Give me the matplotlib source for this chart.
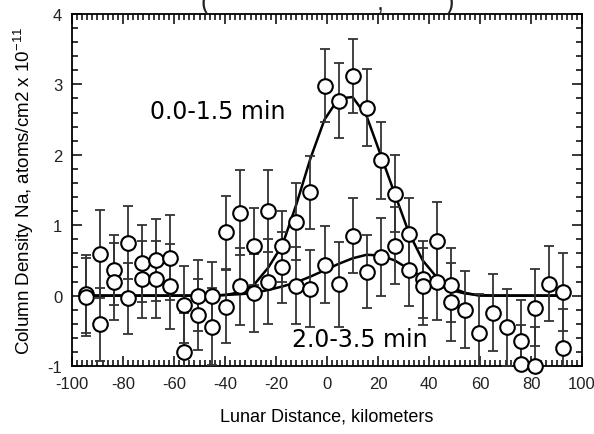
import numpy as np
import matplotlib
matplotlib.use("Agg")
import matplotlib.pyplot as plt
from matplotlib.ticker import MultipleLocator

# Lunar distance of each bin (km)
x_km = [-94.5, -89, -83.5, -78, -72.5, -67, -61.5, -56, -50.5, -45, -39.5,
        -34, -28.5, -23, -17.5, -12, -6.5, -1, 4.5, 10, 15.5, 21, 26.5, 32,
        37.5, 43, 48.5, 54, 59.5, 65, 70.5, 76, 81.5, 87, 92.5]

# 0.0-1.5 min column density (x 1e-11 atoms/cm2)
early = [0.02, 0.59, 0.36, 0.75, 0.46, 0.51, 0.54, -0.13, 0.0, 0.0, 0.9,
         1.18, 0.7, 1.2, 0.7, 1.05, 1.47, 2.98, 2.77, 3.12, 2.67, 1.92, 1.45,
         0.88, 0.23, 0.78, 0.15, -0.2, -0.53, -0.24, -0.45, -0.64, -0.17,
         0.17, 0.05]
early_err = [0.55, 0.62, 0.5, 0.52, 0.55, 0.58, 0.6, 0.55, 0.5, 0.48, 0.52,
             0.6, 0.55, 0.58, 0.5, 0.55, 0.52, 0.52, 0.53, 0.52, 0.55, 0.55,
             0.55, 0.5, 0.55, 0.55, 0.52, 0.55, 0.55, 0.55, 0.55, 0.58, 0.55,
             0.53, 0.55]
early_fit = [0, 0, 0, 0, 0, 0, 0, 0, 0, 0, 0.01, 0.05, 0.16, 0.4, 0.72, 1.3,
             1.95, 2.5, 2.8, 2.82, 2.55, 2.0, 1.45, 0.9, 0.5, 0.26, 0.12, 0.04,
             0.0, 0, 0, 0, 0, 0, 0]

# 2.0-3.5 min
late = [-0.02, -0.41, 0.2, -0.04, 0.23, 0.23, 0.13, -0.8, -0.27, -0.44,
        -0.16, 0.13, 0.04, 0.2, 0.4, 0.14, 0.1, 0.44, 0.16, 0.85, 0.34, 0.55,
        0.71, 0.37, 0.13, 0.2, -0.09, np.nan, np.nan, np.nan, np.nan, -0.97,
        -1.0, np.nan, -0.74]
late_err = [0.55, 0.52, 0.55, 0.5, 0.55, 0.55, 0.6, 0.55, 0.5, 0.55, 0.52,
            0.55, 0.55, 0.6, 0.5, 0.55, 0.55, 0.55, 0.6, 0.53, 0.52, 0.55,
            0.55, 0.52, 0.55, 0.55, 0.55, 0.55, 0.55, 0.55, 0.55, 0.55, 0.55,
            0.55, 0.55]
late_fit = [0, 0, 0, 0, 0, 0, 0, 0, 0, 0, 0.01, 0.02, 0.04, 0.08, 0.13, 0.19,
            0.27, 0.36, 0.45, 0.53, 0.58, 0.57, 0.5, 0.38, 0.26, 0.16, 0.08,
            0.03, 0.01, 0, 0, 0, 0, 0, 0]

plt.rcParams['font.family'] = ['Liberation Sans', 'DejaVu Sans']
plt.rcParams['axes.unicode_minus'] = False
plt.rcParams['mathtext.fontset'] = 'custom'
plt.rcParams['mathtext.rm'] = 'Liberation Sans'
plt.rcParams['mathtext.it'] = 'Liberation Sans'

fig = plt.figure(figsize=(5.94, 4.35), dpi=100)
ax = fig.add_axes([0.1212, 0.1563, 0.8588, 0.8092])

# fits
ax.plot(x_km, early_fit, color='black', lw=1.8, zorder=2)
ax.plot(x_km, late_fit, color='black', lw=1.8, zorder=2)

# data with error bars (bars clipped, circles not)
for y, e in [(early, early_err), (late, late_err)]:
    ax.errorbar(x_km, y, yerr=e, fmt='none', ecolor='#333333',
                elinewidth=1.3, capsize=3.5, capthick=1.3, zorder=3)
    ax.plot(x_km, y, 'o', ms=10.5, mfc='white', mec='black', mew=1.5,
            zorder=4, clip_on=False)

ax.text(-43, 2.62, '0.0-1.5 min', family='DejaVu Sans', fontsize=17,
        ha='center', va='center')
ax.text(13, -0.61, '2.0-3.5 min', family='DejaVu Sans', fontsize=17,
        ha='center', va='center')

# top of a cut-off title
for xp, s in [(205, '('), (380, ','), (450, ')')]:
    fig.text(xp / 594, 1 - 15 / 435, s, fontsize=18, ha='center',
             va='bottom', color='#222222')

ax.set_xlim(-100, 100)
ax.set_ylim(-1, 4)
ax.xaxis.set_major_locator(MultipleLocator(20))
ax.xaxis.set_minor_locator(MultipleLocator(2))
ax.yaxis.set_major_locator(MultipleLocator(1))
ax.yaxis.set_minor_locator(MultipleLocator(0.2))
ax.tick_params(which='both', direction='in', top=True, right=True,
               labelsize=12, labelcolor='#222222', width=1.1)
ax.tick_params(which='major', length=7, pad=7)
ax.tick_params(which='minor', length=4)
for s in ax.spines.values():
    s.set_linewidth(1.3)

ax.set_xlabel('Lunar Distance, kilometers', fontsize=13, labelpad=12)
ax.set_ylabel('Column Density Na, atoms/cm2 x 10$^{-11}$', fontsize=13.5,
              labelpad=8)

fig.savefig('out.png', dpi=100)
